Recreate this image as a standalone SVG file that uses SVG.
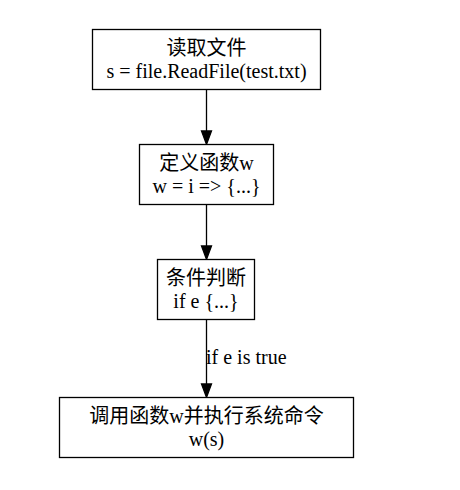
<svg xmlns="http://www.w3.org/2000/svg" width="460" height="490" viewBox="0 0 460 490">
<style>
.box{fill:#fff;stroke:#000;stroke-width:1.3}
.t{font-family:"Liberation Serif","Noto Sans CJK SC",serif;font-size:20px;fill:#000;text-anchor:middle}
.lbl{font-family:"Liberation Serif","Noto Sans CJK SC",serif;font-size:20px;fill:#000}
.edge{stroke:#000;stroke-width:1.3;fill:none}
.head{fill:#000;stroke:#000;stroke-width:1.3}
</style>
<rect width="460" height="490" fill="#fff"/>
<g id="connectors">
<line class="edge" x1="206.5" y1="89.5" x2="206.5" y2="131"/>
<polygon class="head" points="201.5,131 211.5,131 206.5,144.5"/>
<line class="edge" x1="206.5" y1="204.5" x2="206.5" y2="246"/>
<polygon class="head" points="201.5,246 211.5,246 206.5,259.5"/>
<line class="edge" x1="206.5" y1="319.5" x2="206.5" y2="384"/>
<polygon class="head" points="201.5,384 211.5,384 206.5,397.5"/>
<text class="lbl" x="206" y="364">if e is true</text>
</g>
<g id="node1">
<rect class="box" x="92.5" y="29.5" width="228" height="60"/>
<text class="t" x="206.5" y="54.5">读取文件</text>
<text class="t" x="206.5" y="77.5">s = file.ReadFile(test.txt)</text>
</g>
<g id="node2">
<rect class="box" x="139.5" y="144.5" width="134" height="60"/>
<text class="t" x="206.5" y="169.5">定义函数w</text>
<text class="t" x="206.5" y="192.5">w = i =&gt; {...}</text>
</g>
<g id="node3">
<rect class="box" x="157.5" y="259.5" width="97" height="60"/>
<text class="t" x="206" y="284.5">条件判断</text>
<text class="t" x="206" y="307.5">if e {...}</text>
</g>
<g id="node4">
<rect class="box" x="59.5" y="397.5" width="294" height="60"/>
<text class="t" x="206.5" y="422.5">调用函数w并执行系统命令</text>
<text class="t" x="206.5" y="445.5">w(s)</text>
</g>
</svg>
